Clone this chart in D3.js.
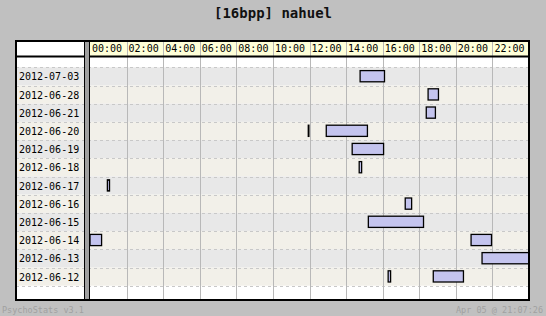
<!DOCTYPE html>
<html>
<head>
<meta charset="utf-8">
<script src="https://cdn.jsdelivr.net/npm/d3@7"></script>
<style>
  body { margin: 0; background: #c0c0c0; }
  svg { display: block; }
  text { font-family: "DejaVu Sans Mono", "Liberation Mono", monospace; }
</style>
</head>
<body>
<script>
'use strict';

// days shown, top to bottom
let days = ["2012-07-03", "2012-06-28", "2012-06-21", "2012-06-20", "2012-06-19", "2012-06-18",
            "2012-06-17", "2012-06-16", "2012-06-15", "2012-06-14", "2012-06-13", "2012-06-12"];

// hour ticks in the header
let hourTicks = [0, 2, 4, 6, 8, 10, 12, 14, 16, 18, 20, 22];

// play sessions: day, start, end
let sessionDays   = ["2012-07-03", "2012-06-28", "2012-06-21", "2012-06-20", "2012-06-20", "2012-06-19", "2012-06-19",
                     "2012-06-18", "2012-06-17", "2012-06-16", "2012-06-15", "2012-06-14", "2012-06-14", "2012-06-13",
                     "2012-06-12", "2012-06-12"];
let sessionStarts = ["14:46", "18:29", "18:23", "11:56", "12:55", "14:20", "18:55",
                     "14:43", "00:57", "17:14", "15:13", "00:00", "20:50", "21:26",
                     "16:18", "18:46"];
let sessionEnds   = ["16:06", "19:03", "18:53", "11:58", "15:10", "16:03", "18:55",
                     "14:51", "01:04", "17:35", "18:14", "00:38", "21:57", "24:00",
                     "16:26", "20:25"];

let title = "[16bpp] nahuel";
let footLeft = "PsychoStats v3.1";
let footRight = "Apr 05 @ 21:07:26";

let W = 546, H = 316;
let frame = {left: 16, top: 41, right: 529, bottom: 300};
let headerBottom = 56;
let sepX = 84;

function toHours(s) {
  let p = s.split(":");
  return +p[0] + (+p[1]) / 60;
}

let sessions = sessionDays.map((d, i) => ({
  day: d,
  start: toHours(sessionStarts[i]),
  end: toHours(sessionEnds[i])
}));

let svg = d3.select("body").append("svg")
  .attr("width", W)
  .attr("height", H);

// scales
let x = d3.scaleLinear().domain([0, 24]).range([90, frame.right]);
let y = d3.scaleBand().domain(days).range([67.3, 285.7]);

// title
svg.append("text")
  .attr("x", W / 2)
  .attr("y", 18)
  .attr("text-anchor", "middle")
  .style("font-size", "14px")
  .style("font-weight", "bold")
  .attr("fill", "#111")
  .text(title);

// white body of the table
svg.append("rect")
  .attr("x", frame.left).attr("y", frame.top)
  .attr("width", frame.right - frame.left).attr("height", frame.bottom - frame.top)
  .attr("fill", "#fff");

// header cells
svg.append("rect")
  .attr("x", x(0)).attr("y", frame.top)
  .attr("width", x(24) - x(0)).attr("height", headerBottom - frame.top)
  .attr("fill", "#ffffd8");

// row stripes (label column included)
svg.selectAll(".row")
  .data(days)
  .enter()
  .append("rect")
    .attr("x", frame.left)
    .attr("y", (d) => y(d))
    .attr("width", frame.right - frame.left)
    .attr("height", y.bandwidth())
    .attr("fill", (d, i) => i % 2 == 0 ? "#e8e8e8" : "#f2f0e9");

// dashed row separators
let rowEdges = days.map((d) => y(d)).concat([y.range()[1]]);
svg.selectAll(".dash")
  .data(rowEdges)
  .enter()
  .append("line")
    .attr("x1", frame.left).attr("x2", frame.right)
    .attr("y1", (d) => Math.round(d) + 0.5).attr("y2", (d) => Math.round(d) + 0.5)
    .attr("stroke", "#c8c8c8")
    .attr("stroke-dasharray", "3,3");

// vertical hour grid, through header and body
svg.selectAll(".grid")
  .data(hourTicks.slice(1))
  .enter()
  .append("line")
    .attr("x1", (d) => Math.round(x(d)) + 0.5).attr("x2", (d) => Math.round(x(d)) + 0.5)
    .attr("y1", frame.top).attr("y2", frame.bottom)
    .attr("stroke", "#b8b8b8");

// header labels
svg.selectAll(".hour")
  .data(hourTicks)
  .enter()
  .append("text")
    .attr("x", (d) => x(d) + 2)
    .attr("y", 52)
    .style("font-size", "10px")
    .attr("fill", "#000")
    .text((d) => d3.format("02d")(d) + ":00");

// date labels
svg.selectAll(".day")
  .data(days)
  .enter()
  .append("text")
    .attr("x", 19)
    .attr("y", (d) => y(d) + y.bandwidth() / 2 + 4)
    .style("font-size", "10px")
    .attr("fill", "#000")
    .text((d) => d);

// session bars
svg.selectAll(".bar")
  .data(sessions)
  .enter()
  .append("rect")
    .attr("x", (d) => x(d.start))
    .attr("y", (d) => y(d.day) + 3.3)
    .attr("width", (d) => x(d.end) - x(d.start))
    .attr("height", y.bandwidth() - 7)
    .attr("fill", "#c4c4ee")
    .attr("stroke", "#000")
    .attr("stroke-width", 1.3);

// header bottom rule
svg.append("line")
  .attr("x1", frame.left).attr("x2", frame.right)
  .attr("y1", headerBottom + 0.5).attr("y2", headerBottom + 0.5)
  .attr("stroke", "#000")
  .attr("stroke-width", 2);

// label column separator (double bar)
svg.append("rect")
  .attr("x", sepX + 1).attr("y", frame.top)
  .attr("width", 4).attr("height", frame.bottom - frame.top)
  .attr("fill", "#a0a0a0");
[sepX + 0.5, sepX + 5.5].forEach((sx) => {
  svg.append("line")
    .attr("x1", sx).attr("x2", sx)
    .attr("y1", frame.top).attr("y2", frame.bottom)
    .attr("stroke", "#000");
});

// outer frame
svg.append("rect")
  .attr("x", frame.left).attr("y", frame.top)
  .attr("width", frame.right - frame.left).attr("height", frame.bottom - frame.top)
  .attr("fill", "none")
  .attr("stroke", "#000")
  .attr("stroke-width", 2);

// footer
svg.append("text")
  .attr("x", 2).attr("y", 313)
  .style("font-size", "8.5px")
  .attr("fill", "#a0a0a0")
  .text(footLeft);

svg.append("text")
  .attr("x", 543).attr("y", 313)
  .attr("text-anchor", "end")
  .style("font-size", "8.5px")
  .attr("fill", "#a0a0a0")
  .text(footRight);
</script>
</body>
</html>
